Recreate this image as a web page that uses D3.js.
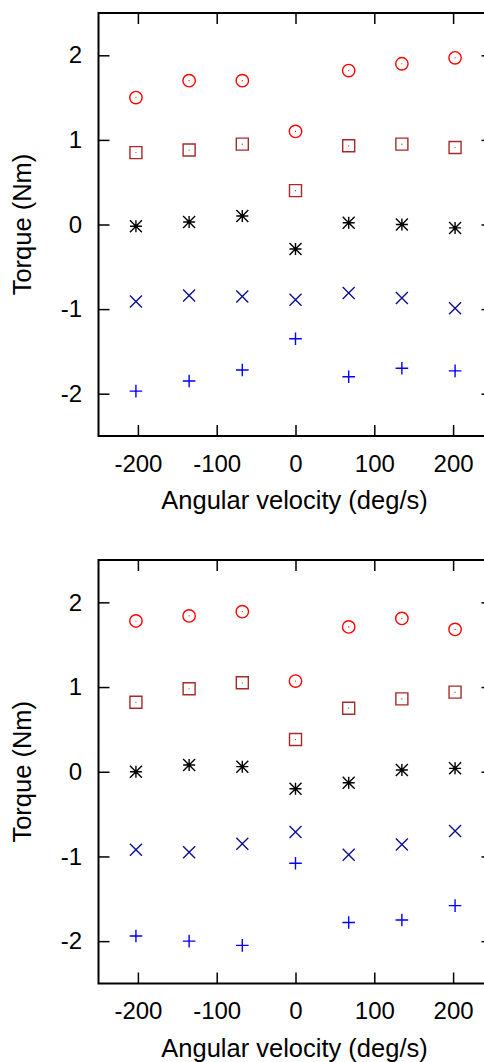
<!DOCTYPE html>
<html>
<head>
<meta charset="utf-8">
<script src="https://cdn.jsdelivr.net/npm/d3@7"></script>
<style>
  html, body { margin: 0; padding: 0; background: #fff; }
  svg { display: block; font-family: "Liberation Sans", Arial, Helvetica, sans-serif; }
</style>
</head>
<body>
<div id="chart"></div>
<script>
// angular velocity of each trial (deg/s)
const velocity = [-202.5, -135, -67.5, 0, 67.5, 135, 202.5];
const xTicks = [-200, -100, 0, 100, 200];
const yTicks = [-2, -1, 0, 1, 2];

// upper panel, torque (Nm)
const topCircle = [1.50, 1.70, 1.70, 1.10, 1.82, 1.90, 1.97];
const topSquare = [0.85, 0.88, 0.95, 0.40, 0.93, 0.95, 0.91];
const topStar   = [-0.02, 0.03, 0.10, -0.29, 0.02, 0.00, -0.04];
const topCross  = [-0.91, -0.84, -0.85, -0.89, -0.81, -0.87, -0.99];
const topPlus   = [-1.97, -1.85, -1.72, -1.35, -1.80, -1.70, -1.73];

// lower panel, torque (Nm)
const botCircle = [1.78, 1.84, 1.89, 1.07, 1.71, 1.81, 1.68];
const botSquare = [0.82, 0.98, 1.05, 0.38, 0.75, 0.86, 0.94];
const botStar   = [0.00, 0.08, 0.06, -0.20, -0.13, 0.02, 0.04];
const botCross  = [-0.92, -0.95, -0.85, -0.71, -0.98, -0.86, -0.70];
const botPlus   = [-1.94, -2.00, -2.05, -1.08, -1.78, -1.75, -1.58];

const width = 484, height = 1062;
const margin = {left: 98.5, right: 492.5};
const tickLen = 11;
const fmt = d => String(d);   // plain hyphen minus like gnuplot

const svg = d3.select("#chart").append("svg")
    .attr("width", width)
    .attr("height", height);

const x = d3.scaleLinear().domain([-250, 250]).range([margin.left, margin.right]);

// gnuplot style point shapes
function marker(type, r) {
  const p = d3.path();
  if (type === "circle") {
    p.moveTo(r, 0); p.arc(0, 0, r, 0, 2 * Math.PI);
  } else if (type === "square") {
    p.rect(-r, -r, 2 * r, 2 * r);
  } else if (type === "plus") {
    p.moveTo(-r, 0); p.lineTo(r, 0); p.moveTo(0, -r); p.lineTo(0, r);
  } else if (type === "cross") {
    p.moveTo(-r, -r); p.lineTo(r, r); p.moveTo(-r, r); p.lineTo(r, -r);
  } else if (type === "star") {
    p.moveTo(-r, 0); p.lineTo(r, 0); p.moveTo(0, -r); p.lineTo(0, r);
    p.moveTo(-r, -r); p.lineTo(r, r); p.moveTo(-r, r); p.lineTo(r, -r);
  }
  return p.toString();
}

function drawPanel(top, bottom, series) {
  const y = d3.scaleLinear().domain([-2.5, 2.5]).range([bottom, top]);
  const g = svg.append("g");

  // bottom axis with labels
  g.append("g")
      .attr("transform", "translate(0," + bottom + ")")
      .call(d3.axisBottom(x).tickValues(xTicks).tickFormat(fmt).tickSize(-tickLen).tickPadding(18.5))
      .call(a => a.select(".domain").remove());
  // top axis ticks only
  g.append("g")
      .attr("transform", "translate(0," + top + ")")
      .call(d3.axisTop(x).tickValues(xTicks).tickSize(-tickLen).tickFormat(""))
      .call(a => a.select(".domain").remove());
  // left axis with labels
  g.append("g")
      .attr("transform", "translate(" + margin.left + ",0)")
      .call(d3.axisLeft(y).tickValues(yTicks).tickFormat(fmt).tickSize(-tickLen).tickPadding(16.5))
      .call(a => a.select(".domain").remove());
  // right axis ticks only
  g.append("g")
      .attr("transform", "translate(" + margin.right + ",0)")
      .call(d3.axisRight(y).tickValues(yTicks).tickSize(-tickLen).tickFormat(""))
      .call(a => a.select(".domain").remove());

  g.selectAll(".tick line").attr("stroke", "#000").attr("stroke-width", 1.5);
  g.selectAll(".tick text").attr("font-size", 24).attr("fill", "#000")
      .attr("font-family", "Liberation Sans, Arial, sans-serif");

  g.append("rect")
      .attr("x", margin.left).attr("y", top)
      .attr("width", margin.right - margin.left).attr("height", bottom - top)
      .attr("fill", "none").attr("stroke", "#000").attr("stroke-width", 2);

  // axis titles
  g.append("text")
      .attr("x", (margin.left + margin.right) / 2 - 1)
      .attr("y", bottom + 73)
      .attr("text-anchor", "middle")
      .attr("font-size", 25.5)
      .text("Angular velocity (deg/s)");
  g.append("text")
      .attr("transform", "translate(31," + (top + bottom) / 2 + ") rotate(-90)")
      .attr("text-anchor", "middle")
      .attr("font-size", 25.5)
      .text("Torque (Nm)");

  series.forEach(s => {
    const pts = g.append("g").selectAll("g")
        .data(s.values)
        .join("g")
        .attr("transform", (d, i) => "translate(" + x(velocity[i]) + "," + y(d) + ")");
    pts.append("path")
        .attr("d", marker(s.type, s.r))
        .attr("fill", "none")
        .attr("stroke", s.color)
        .attr("stroke-width", 1.4);
    pts.append("circle")
        .attr("r", s.type === "star" ? 1.6 : 0.6)
        .attr("fill", s.color);
  });
}

drawPanel(13, 436, [
  {values: topCircle, type: "circle", r: 6.2, color: "#ff0000"},
  {values: topSquare, type: "square", r: 6, color: "#a52a2a"},
  {values: topStar, type: "star", r: 6, color: "#000000"},
  {values: topCross, type: "cross", r: 6, color: "#10108f"},
  {values: topPlus, type: "plus", r: 6.3, color: "#0000ff"}
]);

drawPanel(560, 983.5, [
  {values: botCircle, type: "circle", r: 6.2, color: "#ff0000"},
  {values: botSquare, type: "square", r: 6, color: "#a52a2a"},
  {values: botStar, type: "star", r: 6, color: "#000000"},
  {values: botCross, type: "cross", r: 6, color: "#10108f"},
  {values: botPlus, type: "plus", r: 6.3, color: "#0000ff"}
]);
</script>
</body>
</html>
